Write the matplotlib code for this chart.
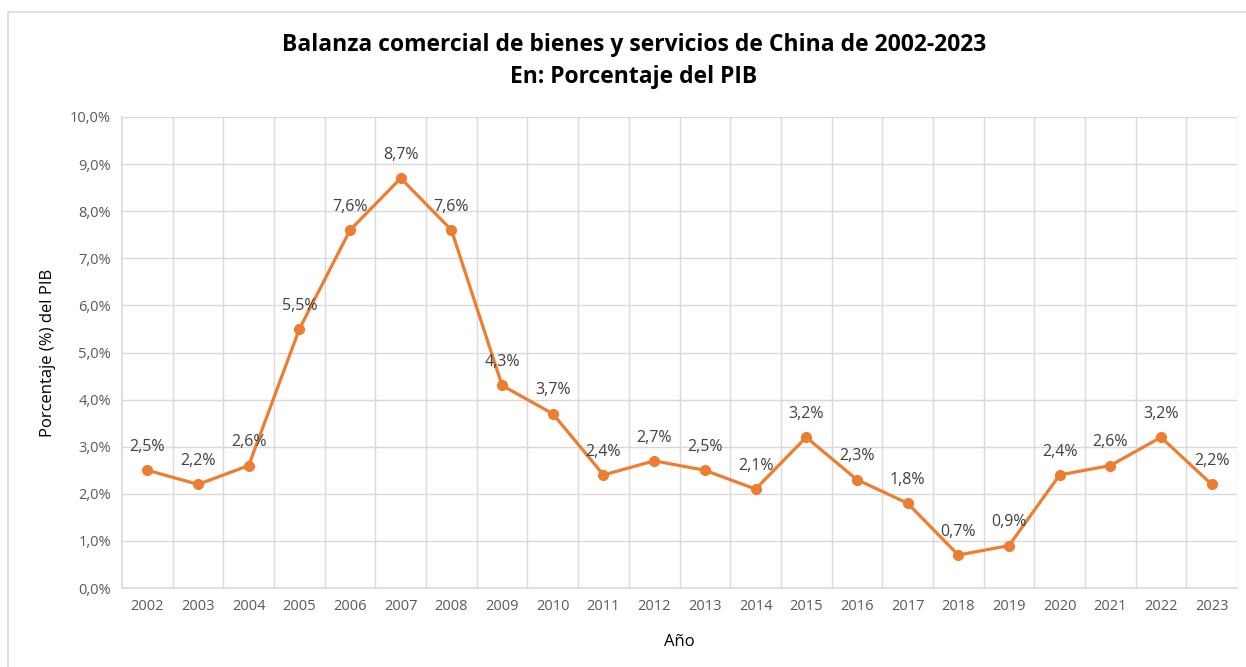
import matplotlib.pyplot as plt
from matplotlib.patches import Rectangle
from matplotlib.ticker import FuncFormatter, MultipleLocator

plt.rcParams['font.family'] = ['Open Sans', 'DejaVu Sans']

years = [str(y) for y in range(2002, 2024)]
balance = [2.5, 2.2, 2.6, 5.5, 7.6, 8.7, 7.6, 4.3, 3.7, 2.4, 2.7,
           2.5, 2.1, 3.2, 2.3, 1.8, 0.7, 0.9, 2.4, 2.6, 3.2, 2.2]

orange = '#ED7D31'
grid_c = '#D9D9D9'
tick_c = '#595959'

fig = plt.figure(figsize=(12.46, 6.67), dpi=100)
# outer chart border
fig.patches.append(Rectangle((8 / 1246, -0.05), 1.1, 1 - 12 / 667 + 0.05,
                             transform=fig.transFigure, fill=False,
                             edgecolor=grid_c, linewidth=1.2))

ax = fig.add_axes([122 / 1246, 1 - 588 / 667, (1237 - 122) / 1246, (588 - 117) / 667])
x = list(range(len(years)))
ax.plot(x, balance, color=orange, linewidth=2.3, marker='o', markersize=7, zorder=3)

for xi, v in zip(x, balance):
    ax.annotate(f'{v:.1f}%'.replace('.', ','), (xi, v), xytext=(0, 11),
                textcoords='offset points', ha='center', va='bottom',
                fontsize=11.5, color='#404040')

ax.set_xlim(-0.5, len(years) - 0.5)
ax.set_ylim(0, 10)
ax.set_xticks(x)
ax.set_xticklabels(years)
ax.yaxis.set_major_locator(MultipleLocator(1))
ax.yaxis.set_major_formatter(FuncFormatter(lambda v, p: f'{v:.1f}%'.replace('.', ',')))

# category-boundary vertical gridlines, Excel style
for b in range(1, len(years) + 1):
    ax.axvline(b - 0.5, color=grid_c, linewidth=1, zorder=0)
ax.grid(axis='y', color=grid_c, linewidth=1, zorder=0)

for s in ['top', 'right']:
    ax.spines[s].set_visible(False)
for s in ['left', 'bottom']:
    ax.spines[s].set_color(grid_c)
    ax.spines[s].set_linewidth(1.2)
ax.tick_params(length=0, labelsize=10.5, labelcolor=tick_c, pad=8)

ax.set_xlabel('Año', fontsize=12, labelpad=14)
ax.set_ylabel('Porcentaje (%) del PIB', fontsize=12, labelpad=10)

fig.text(634 / 1246, 1 - 45 / 667, 'Balanza comercial de bienes y servicios de China de 2002-2023',
         ha='center', va='center', fontsize=16.5, fontweight='bold')
fig.text(634 / 1246, 1 - 77 / 667, 'En: Porcentaje del PIB',
         ha='center', va='center', fontsize=16.5, fontweight='bold')

fig.savefig('out.png', dpi=100)
